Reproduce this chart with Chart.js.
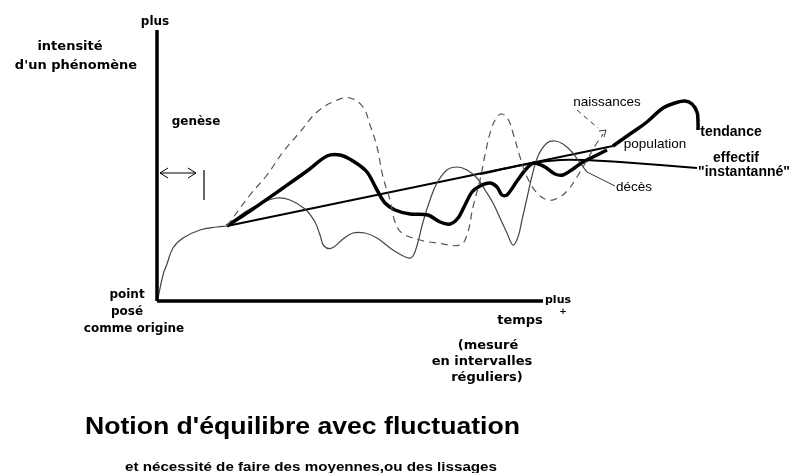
<!DOCTYPE html>
<html>
<head>
<meta charset="utf-8">
<script src="https://cdn.jsdelivr.net/npm/chart.js@4/dist/chart.umd.min.js"></script>
<style>
  html, body { margin: 0; padding: 0; background: #fff; }
  #wrap { width: 792px; height: 473px; }
</style>
</head>
<body>
<div id="wrap"><canvas id="fluctChart" width="792" height="473"></canvas></div>
<script>
// temps (x) et intensité (y)
var genesisX = [0.25, 1.5, 2.5, 4, 6.5, 10.75, 15, 17.5];
var genesisY = [1.2, 10.4, 14.8, 21.2, 25.2, 28.4, 29.6, 30];

var naissancesX = [17.5, 23.25, 27.5, 31.5, 35.75, 40, 44.5, 48.25, 51.5, 53.25, 55, 56.5, 58.25, 59.5, 61.25, 65.75, 70, 75.75, 77.5, 79, 80.75, 82, 83.5, 85, 86.25, 87.75, 89, 90.75, 92.5, 95, 97.75, 100.25, 102.75, 105, 107.5, 109.5, 111.5];
var naissancesY = [30, 42.4, 50.4, 59.6, 67.6, 75.6, 80, 81.2, 77.6, 70.4, 61.6, 49.6, 40.4, 31.6, 27.2, 24.4, 23.2, 22.4, 26.4, 37.6, 48.4, 58.4, 68.4, 73.6, 74.8, 72.8, 67.2, 57.6, 49.6, 43.2, 40.4, 41.2, 44.4, 49.6, 56.4, 62, 66.8];

var populationX = [17.5, 23.25, 31.5, 37.5, 42.5, 45.75, 49, 52.5, 55, 57, 59.5, 63.25, 67.75, 70.75, 73.25, 75.25, 77, 78.75, 80.75, 83.25, 85, 86.25, 87.5, 90, 92.5, 94.25, 97, 99.5, 101.5, 104, 106.5, 109.5, 112.5];
var populationY = [30, 36, 45.2, 52, 58, 58.4, 56, 51.6, 44.4, 39.2, 36.4, 34.8, 34.4, 31.6, 30.8, 33.2, 38.4, 43.6, 46, 47.2, 45.6, 42.4, 42.4, 48, 53.2, 55.2, 53.6, 50.8, 50.4, 52.8, 55.6, 58, 60.4];

var decesX = [17.5, 22, 26.25, 30, 33.25, 37, 39.5, 40.75, 41.75, 43.75, 46.5, 49, 52, 55, 59, 62.75, 64, 65.25, 66.5, 68.25, 70, 72.5, 75, 77.5, 80, 82, 84, 85.75, 87.5, 89, 90.25, 91.25, 92.5, 93.75, 95.25, 97.5, 99.5, 101.5, 103.75, 105.75, 107.5];
var decesY = [30, 35.6, 39.2, 41.2, 40.4, 36.8, 31.6, 26.4, 22, 21.2, 24.8, 27.2, 27.2, 25.2, 20.4, 17.2, 18, 23.6, 31.6, 40.4, 47.2, 52.4, 53.6, 52.4, 49.2, 44.4, 39.2, 33.2, 27.2, 22.4, 25.6, 32.4, 41.2, 50, 58, 63.2, 64, 62.8, 59.6, 55.2, 51.6];

var trendLineX = [17.5, 114];
var trendLineY = [30, 62];
var trendCurveX = [114, 115.75, 118.25, 122.5, 126.5, 129.5, 132, 133.75, 135, 135.25, 135.25];
var trendCurveY = [62, 64, 66.8, 71.6, 77.2, 79.2, 80, 78.8, 75.6, 71.6, 68.4];

var effectifX = [80.75, 94, 100.75, 106.5, 115.75, 125.75, 135];
var effectifY = [50.8, 55.2, 56.4, 56.4, 55.6, 54.4, 53.2];

// axes et petits traits de renvoi
var yAxisX = [0, 0];
var yAxisY = [0, 108.4];
var xAxisX = [0, 96.5];
var xAxisY = [0, 0];
var naisLeaderX = [105, 110.25];
var naisLeaderY = [76.4, 69.2];
var naisArrowX = [110.5, 112.25, 111.75];
var naisArrowY = [68, 68.4, 65.6];
var decesLeaderX = [107.5, 114.5];
var decesLeaderY = [51.6, 46];
var geneseArrowX = [0.75, 9.75];
var geneseArrowY = [51.2, 51.2];
var geneseHeadLX = [2.75, 0.75, 2.75];
var geneseHeadLY = [53.2, 51.2, 49.2];
var geneseHeadRX = [7.75, 9.75, 7.75];
var geneseHeadRY = [53.2, 51.2, 49.2];
var geneseBarX = [11.75, 11.75];
var geneseBarY = [52.4, 40.4];

function pts(xs, ys) {
    return xs.map(function (x, i) { return { x: x, y: ys[i] }; });
}

function line(xs, ys, color, width, tension, dash) {
    return {
        data: pts(xs, ys),
        borderColor: color,
        borderWidth: width,
        borderDash: dash || [],
        tension: tension,
        pointRadius: 0,
        fill: false,
        clip: false
    };
}

// textes placés sur la page
var labels = [
    { t: "plus", x: 155, y: 22, f: "bold 12px 'DejaVu Sans'" },
    { t: "intensité", x: 70, y: 47, f: "bold 13px 'DejaVu Sans'" },
    { t: "d'un phénomène", x: 76, y: 66, f: "bold 13px 'DejaVu Sans'" },
    { t: "genèse", x: 196, y: 122, f: "bold 12px 'DejaVu Sans'" },
    { t: "point", x: 127, y: 295, f: "bold 12px 'DejaVu Sans'" },
    { t: "posé", x: 127, y: 312, f: "bold 12px 'DejaVu Sans'" },
    { t: "comme origine", x: 134, y: 329, f: "bold 12px 'DejaVu Sans'" },
    { t: "plus", x: 558, y: 300, f: "bold 11px 'DejaVu Sans'" },
    { t: "+", x: 563, y: 312, f: "bold 9px 'DejaVu Sans'" },
    { t: "temps", x: 520, y: 321, f: "bold 13px 'DejaVu Sans'" },
    { t: "(mesuré", x: 488, y: 346, f: "bold 13px 'DejaVu Sans'" },
    { t: "en intervalles", x: 482, y: 362, f: "bold 13px 'DejaVu Sans'" },
    { t: "réguliers)", x: 487, y: 378, f: "bold 13px 'DejaVu Sans'" },
    { t: "naissances", x: 607, y: 102, f: "13.5px 'Liberation Sans'" },
    { t: "population", x: 655, y: 144, f: "13.5px 'Liberation Sans'" },
    { t: "décès", x: 634, y: 187, f: "13.5px 'Liberation Sans'" },
    { t: "tendance", x: 731, y: 132, f: "bold 14px 'Liberation Sans'" },
    { t: "effectif", x: 736, y: 158, f: "bold 14px 'Liberation Sans'" },
    { t: "\"instantanné\"", x: 744, y: 172, f: "bold 14px 'Liberation Sans'" }
];

var textPlugin = {
    id: 'textPlugin',
    afterDraw: function (chart) {
        var ctx = chart.ctx;
        ctx.save();
        ctx.fillStyle = '#000';
        ctx.textAlign = 'center';
        ctx.textBaseline = 'middle';
        labels.forEach(function (l) {
            ctx.font = l.f;
            ctx.fillText(l.t, l.x, l.y);
        });
        fitText(ctx, "Notion d'équilibre avec fluctuation", "bold 23px 'Liberation Sans'", 85, 434, 435);
        fitText(ctx, "et nécessité de faire des moyennes,ou des lissages", "bold 12.5px 'Liberation Sans'", 125, 471, 372);
        ctx.restore();
    }
};

function fitText(ctx, txt, font, left, base, width) {
    ctx.save();
    ctx.font = font;
    ctx.textAlign = 'left';
    ctx.textBaseline = 'alphabetic';
    var w = ctx.measureText(txt).width;
    ctx.translate(left, base);
    ctx.scale(width / w, 1);
    ctx.fillText(txt, 0, 0);
    ctx.restore();
}

var ctx = document.getElementById("fluctChart");
var chart = new Chart(ctx, {
    type: 'line',
    data: {
        datasets: [
            line(yAxisX, yAxisY, '#000', 3.5, 0),
            line(xAxisX, xAxisY, '#000', 3.5, 0),
            line(genesisX, genesisY, '#444', 1.2, 0.4),
            line(naissancesX, naissancesY, '#555', 1.2, 0.4, [7, 5]),
            line(populationX, populationY, '#000', 3.5, 0.3),
            line(decesX, decesY, '#444', 1.2, 0.4),
            line(trendLineX, trendLineY, '#000', 2, 0),
            line(trendCurveX, trendCurveY, '#000', 3.5, 0.4),
            line(effectifX, effectifY, '#000', 2, 0.3),
            line(naisLeaderX, naisLeaderY, '#333', 1, 0, [5, 4]),
            line(naisArrowX, naisArrowY, '#333', 1, 0),
            line(decesLeaderX, decesLeaderY, '#333', 1, 0),
            line(geneseArrowX, geneseArrowY, '#000', 1, 0),
            line(geneseHeadLX, geneseHeadLY, '#000', 1, 0),
            line(geneseHeadRX, geneseHeadRY, '#000', 1, 0),
            line(geneseBarX, geneseBarY, '#000', 1.2, 0)
        ]
    },
    options: {
        responsive: false,
        animation: false,
        devicePixelRatio: 1,
        layout: { padding: { left: 157, right: 75, top: 21, bottom: 172 } },
        plugins: { legend: { display: false }, tooltip: { enabled: false } },
        scales: {
            x: { type: 'linear', min: 0, max: 140, display: false },
            y: { type: 'linear', min: 0, max: 112, display: false }
        }
    },
    plugins: [textPlugin]
});
</script>
</body>
</html>
